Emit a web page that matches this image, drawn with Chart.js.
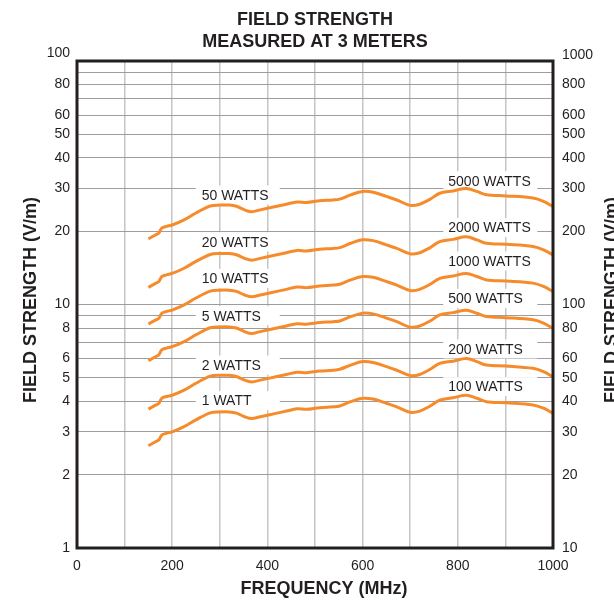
<!DOCTYPE html>
<html>
<head>
<meta charset="utf-8">
<script src="https://cdn.jsdelivr.net/npm/chart.js@4.4.1/dist/chart.umd.min.js"></script>
<style>
  html, body { margin: 0; padding: 0; background: #fff; }
  #chart { display: block; }
</style>
</head>
<body>
<canvas id="chart" width="614" height="602"></canvas>
<script>
// frequency points (MHz) shared by every curve
const freqMHz = [150, 165, 172, 178, 188, 200, 225, 250, 280, 300, 320, 335, 352, 367, 385, 420, 440, 462, 482, 510,
  538, 552, 575, 600, 622, 650, 672, 700, 720, 742, 762, 790, 818, 840, 860, 902, 958, 980, 1000];

// field strength (V/m, left axis)
const watts1 = [2.63, 2.73, 2.78, 2.91, 2.96, 3.00, 3.15, 3.36, 3.59, 3.62, 3.62, 3.58, 3.46, 3.40, 3.46, 3.58, 3.65, 3.73, 3.71, 3.77,
  3.80, 3.83, 3.99, 4.12, 4.09, 3.93, 3.80, 3.61, 3.65, 3.83, 4.05, 4.14, 4.24, 4.12, 3.99, 3.95, 3.87, 3.75, 3.57];
const watts2 = [3.72, 3.86, 3.93, 4.12, 4.19, 4.24, 4.45, 4.75, 5.08, 5.12, 5.12, 5.06, 4.89, 4.81, 4.89, 5.06, 5.16, 5.27, 5.25, 5.33,
  5.37, 5.42, 5.64, 5.83, 5.78, 5.56, 5.37, 5.11, 5.16, 5.42, 5.73, 5.85, 6.00, 5.83, 5.64, 5.59, 5.47, 5.30, 5.05];
const watts5 = [5.88, 6.10, 6.22, 6.51, 6.62, 6.71, 7.04, 7.51, 8.03, 8.09, 8.09, 8.01, 7.74, 7.60, 7.74, 8.01, 8.16, 8.34, 8.30, 8.43,
  8.50, 8.56, 8.92, 9.21, 9.15, 8.79, 8.50, 8.07, 8.16, 8.56, 9.06, 9.26, 9.48, 9.21, 8.92, 8.83, 8.65, 8.39, 7.98];
const watts10 = [8.32, 8.63, 8.79, 9.20, 9.36, 9.49, 9.96, 10.63, 11.35, 11.45, 11.45, 11.32, 10.94, 10.75, 10.94, 11.32, 11.54, 11.80, 11.73, 11.92,
  12.02, 12.11, 12.62, 13.03, 12.93, 12.43, 12.02, 11.42, 11.54, 12.11, 12.81, 13.09, 13.41, 13.03, 12.62, 12.49, 12.24, 11.86, 11.29];
const watts20 = [11.76, 12.21, 12.43, 13.01, 13.24, 13.42, 14.09, 15.03, 16.05, 16.19, 16.19, 16.01, 15.47, 15.21, 15.47, 16.01, 16.32, 16.68, 16.59, 16.86,
  16.99, 17.13, 17.84, 18.43, 18.29, 17.58, 16.99, 16.14, 16.32, 17.13, 18.11, 18.51, 18.96, 18.43, 17.84, 17.66, 17.31, 16.77, 15.97];
const watts50 = [18.60, 19.30, 19.66, 20.58, 20.93, 21.21, 22.27, 23.76, 25.39, 25.60, 25.60, 25.31, 24.47, 24.04, 24.47, 25.31, 25.81, 26.38, 26.23, 26.66,
  26.87, 27.08, 28.21, 29.13, 28.92, 27.79, 26.87, 25.53, 25.81, 27.08, 28.64, 29.27, 29.98, 29.13, 28.21, 27.93, 27.37, 26.52, 25.24];

// axis ticks
const freqGrid = [0, 100, 200, 300, 400, 500, 600, 700, 800, 900, 1000];
const freqTickLabels = [0, 200, 400, 600, 800, 1000];
const leftGrid = [1, 2, 3, 4, 5, 6, 7, 8, 9, 10, 20, 30, 40, 50, 60, 70, 80, 90, 100];
const leftTickLabels = [1, 2, 3, 4, 5, 6, 8, 10, 20, 30, 40, 50, 60, 80];
const leftTopLabel = 100;
const rightGrid = [10, 20, 30, 40, 50, 60, 70, 80, 90, 100, 200, 300, 400, 500, 600, 700, 800, 900, 1000];
const rightTickLabels = [10, 20, 30, 40, 50, 60, 80, 100, 200, 300, 400, 500, 600, 800];
const rightTopLabel = 1000;

// curve labels, anchored in data units
const leftCurveLabels = ['50 WATTS', '20 WATTS', '10 WATTS', '5 WATTS', '2 WATTS', '1 WATT'];
const leftLabelLevels = [28.2, 18.1, 12.8, 9.0, 5.64, 4.03];
const leftLabelFreq = 262;
const rightCurveLabels = ['5000 WATTS', '2000 WATTS', '1000 WATTS', '500 WATTS', '200 WATTS', '100 WATTS'];
const rightLabelLevels = [322, 207, 151, 106, 65.7, 46];
const rightLabelFreq = 780;

const ORANGE = '#f68b2c';
const INK = '#231f20';
const FONT = '"Liberation Sans", Arial, Helvetica, sans-serif';

Chart.defaults.font.family = FONT;
Chart.defaults.font.size = 14;
Chart.defaults.color = INK;

function toPoints(values) {
    return freqMHz.map((f, i) => ({ x: f, y: values[i] }));
}

const series = [watts1, watts2, watts5, watts10, watts20, watts50];

const curveLabels = {
    id: 'curveLabels',
    beforeDatasetsDraw(chart) {
        const { ctx, scales } = chart;
        ctx.save();
        ctx.font = '14px ' + FONT;
        ctx.textBaseline = 'middle';
        ctx.textAlign = 'left';
        leftCurveLabels.forEach((txt, i) => {
            const px = scales.x.getPixelForValue(leftLabelFreq);
            const py = scales.y.getPixelForValue(leftLabelLevels[i]);
            ctx.fillStyle = '#fff';
            ctx.fillRect(px - 6, py - 9.5, 84, 19);
            ctx.fillStyle = INK;
            ctx.fillText(txt, px, py + 1);
        });
        rightCurveLabels.forEach((txt, i) => {
            const px = scales.x.getPixelForValue(rightLabelFreq);
            const py = scales.y1.getPixelForValue(rightLabelLevels[i]);
            ctx.fillStyle = '#fff';
            ctx.fillRect(px - 5, py - 9.5, 94, 19);
            ctx.fillStyle = INK;
            ctx.fillText(txt, px, py + 1);
        });
        ctx.restore();
    }
};

const frameAndTitles = {
    id: 'frameAndTitles',
    afterDraw(chart) {
        const { ctx, chartArea: a, scales } = chart;
        ctx.save();
        ctx.strokeStyle = INK;
        ctx.lineWidth = 3;
        ctx.strokeRect(a.left, a.top, a.right - a.left, a.bottom - a.top);

        // top tick labels sit a little above the frame
        ctx.fillStyle = INK;
        ctx.font = '14px ' + FONT;
        ctx.textBaseline = 'middle';
        ctx.textAlign = 'right';
        ctx.fillText(String(leftTopLabel), a.left - 7, scales.y.getPixelForValue(leftTopLabel) - 8);
        ctx.textAlign = 'left';
        ctx.fillText(String(rightTopLabel), a.right + 9, scales.y1.getPixelForValue(rightTopLabel) - 6);

        ctx.font = 'bold 18px ' + FONT;
        ctx.textAlign = 'center';
        ctx.fillText('FIELD STRENGTH', 315, 20);
        ctx.fillText('MEASURED AT 3 METERS', 315, 42);
        ctx.fillText('FREQUENCY (MHz)', 324, 589);

        ctx.translate(31, 300);
        ctx.rotate(-Math.PI / 2);
        ctx.fillText('FIELD STRENGTH (V/m)', 0, 0);
        ctx.restore();

        ctx.save();
        ctx.fillStyle = INK;
        ctx.font = 'bold 18px ' + FONT;
        ctx.textAlign = 'center';
        ctx.textBaseline = 'middle';
        ctx.translate(612, 300);
        ctx.rotate(-Math.PI / 2);
        ctx.fillText('FIELD STRENGTH (V/m)', 0, 0);
        ctx.restore();
    }
};

new Chart(document.getElementById('chart'), {
    type: 'line',
    data: {
        datasets: series.map(vals => ({
            data: toPoints(vals),
            borderColor: ORANGE,
            borderWidth: 3,
            pointRadius: 0,
            tension: 0.35,
            fill: false,
            yAxisID: 'y'
        }))
    },
    options: {
        responsive: false,
        animation: false,
        devicePixelRatio: 1,
        layout: { padding: { top: 61, left: 0, right: 0, bottom: 0 } },
        plugins: {
            legend: { display: false },
            tooltip: { enabled: false },
            title: { display: false }
        },
        scales: {
            x: {
                type: 'linear',
                min: 0,
                max: 1000,
                afterFit: s => { s.height = 54; },
                afterBuildTicks: s => { s.ticks = freqGrid.map(v => ({ value: v })); },
                grid: { color: '#c6c6c6', lineWidth: 1.5, drawTicks: false },
                border: { display: false },
                ticks: {
                    autoSkip: false,
                    maxRotation: 0,
                    padding: 10,
                    callback: v => freqTickLabels.includes(v) ? String(v) : ''
                }
            },
            y: {
                type: 'logarithmic',
                position: 'left',
                min: 1,
                max: 100,
                afterFit: s => { s.width = 77; },
                afterBuildTicks: s => { s.ticks = leftGrid.map(v => ({ value: v })); },
                grid: { color: '#9d9d9d', lineWidth: 1, drawTicks: false },
                border: { display: false },
                ticks: {
                    autoSkip: false,
                    padding: 7,
                    callback: v => leftTickLabels.includes(v) ? String(v) : ''
                }
            },
            y1: {
                type: 'logarithmic',
                position: 'right',
                min: 10,
                max: 1000,
                afterFit: s => { s.width = 61; },
                afterBuildTicks: s => { s.ticks = rightGrid.map(v => ({ value: v })); },
                grid: { display: false, drawTicks: false },
                border: { display: false },
                ticks: {
                    autoSkip: false,
                    padding: 9,
                    callback: v => rightTickLabels.includes(v) ? String(v) : ''
                }
            }
        }
    },
    plugins: [curveLabels, frameAndTitles]
});
</script>
</body>
</html>
